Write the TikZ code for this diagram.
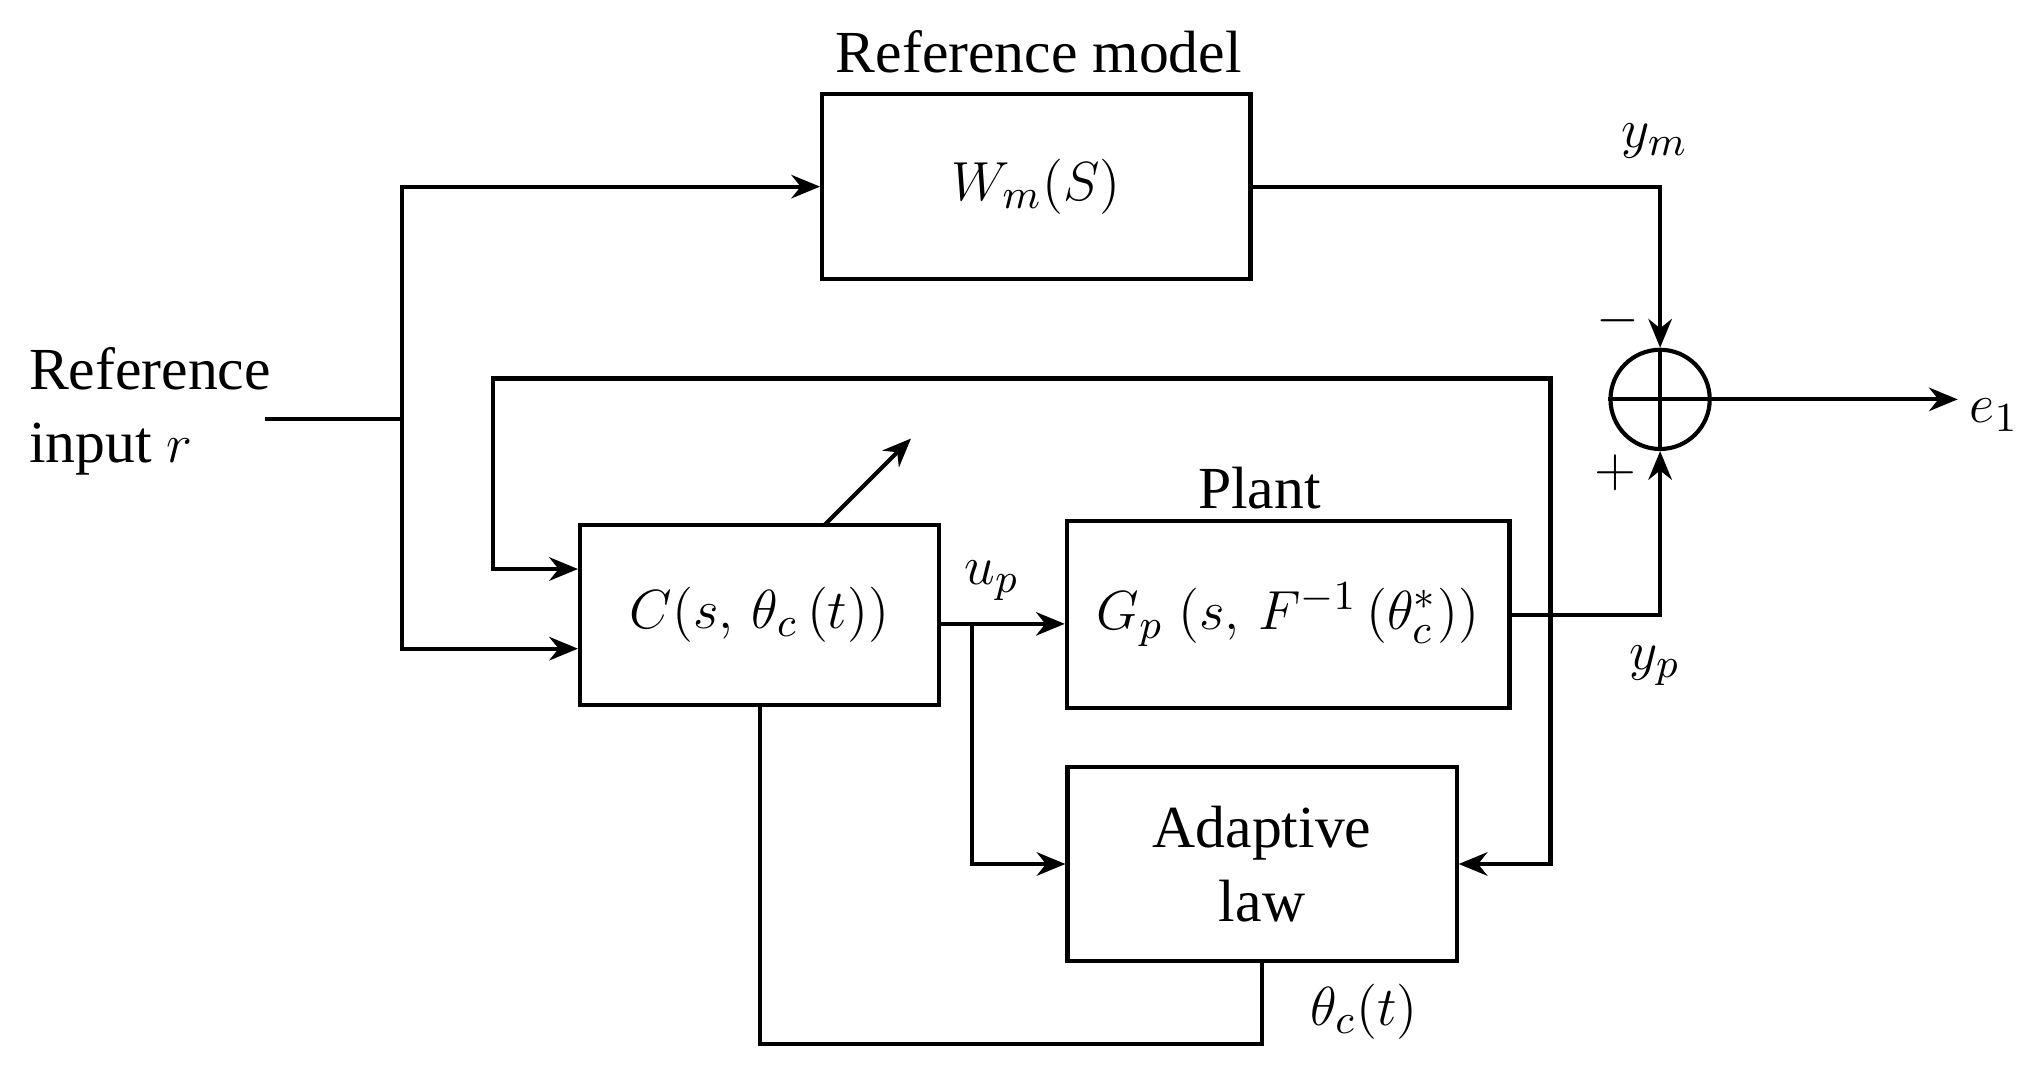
\documentclass[tikz,border=0pt]{standalone}
\usepackage{fontspec}
\setmainfont{Liberation Serif}
\usetikzlibrary{arrows.meta,positioning}

\begin{document}
\begin{tikzpicture}[x=0.01cm,y=-0.01cm]
\tikzstyle{block}=[draw, line width=0.9pt, inner sep=0pt, font=\fontsize{13}{16}\selectfont]
\tikzstyle{lbl}=[inner sep=1pt, font=\fontsize{13}{16}\selectfont]
\tikzstyle{sig}=[line width=0.9pt, -{Stealth[length=2.2mm,width=1.8mm]}]
\tikzstyle{wire}=[line width=0.9pt]
\useasboundingbox (0,0) rectangle (1560,830);
% blocks
\node[block, minimum width=3.28cm, minimum height=1.42cm] (ref) at (794,143) {$W_m(S)$};
\node[lbl] (reflbl) at (796,40) {Reference model};
\node[block, minimum width=2.75cm, minimum height=1.38cm] (ctrl) at (582,471) {$C(s,\,\theta_c\,(t))$};
\node[block, minimum width=3.39cm, minimum height=1.43cm] (plant) at (987,471) {$G_p\;(s,\,F^{-1}\,(\theta^*_c))$};
\node[lbl] (plantlbl) at (965,374) {Plant};
\node[block, minimum width=2.98cm, minimum height=1.49cm, align=center] (adapt) at (967,662) {Adaptive\\law};
\node[draw, circle, line width=0.9pt, minimum size=0.76cm, inner sep=0pt] (sum) at (1272,306) {};
\draw[wire] (sum.north) -- (sum.south) (sum.west) -- (sum.east);
\node[lbl, align=left, anchor=west] (input) at (18,315) {Reference\\input $r$};
% coordinates
\coordinate (in) at (203,321);
\coordinate (split) at (308,321);
\coordinate (up) at (745,478);
\coordinate (yp) at (1188,471);
\coordinate (out) at (1500,306);
% signals
\draw[wire] (in) -- (split);
\draw[sig] (split) |- (ref.west);
\draw[sig] (split) |- ([yshift=-0.26cm]ctrl.west);
\draw[sig] (ref.east) -| (sum.north);
\draw[sig] (plant.east) -| (sum.south);
\draw[sig] (sum.east) -- (out);
\draw[sig] (ctrl.east |- up) -- (plant.west |- up);
\draw[sig] (up) |- (adapt.west);
\draw[sig] (yp) -- (1188,290) -- (378,290) |- ([yshift=0.35cm]ctrl.west);
\draw[sig] (yp) |- (adapt.east);
\draw[wire] (adapt.south) -- (967,800) -| (ctrl.south);
\draw[sig] (632,402) -- (698,336);
% labels
\node[lbl] (ym) at (1268,108) {$y_m$};
\node[lbl] (yplbl) at (1268,510) {$y_p$};
\node[lbl] (uplbl) at (760,445) {$u_p$};
\node[lbl] (e1) at (1528,318) {$e_1$};
\node[lbl] (thc) at (1045,775) {$\theta_c(t)$};
\node[lbl] (minus) at (1240,246) {$-$};
\node[lbl] (plus) at (1238,362) {$+$};
\end{tikzpicture}
\end{document}
